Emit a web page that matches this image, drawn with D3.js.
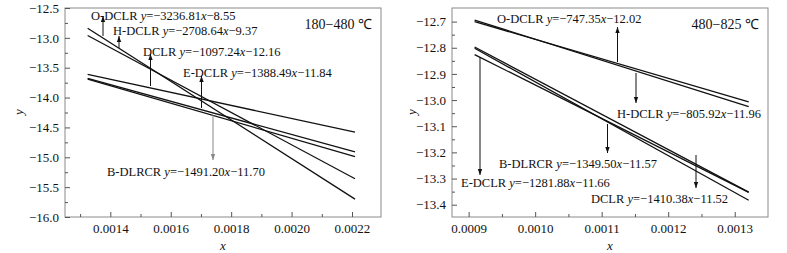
<!DOCTYPE html>
<html>
<head>
<meta charset="utf-8">
<script src="https://cdn.jsdelivr.net/npm/d3@7"></script>
<style>
  body { margin: 0; background: #fff; }
  svg text { font-family: "Liberation Serif", "Times New Roman", serif; fill: #111; }
</style>
</head>
<body>
<div id="chart"></div>
<script>
// fitted lines, two temperature ranges

// left panel, 180-480 C
const leftNames = ['O-DCLR', 'H-DCLR', 'DCLR', 'E-DCLR', 'B-DLRCR'];
const leftSlopes = ['3236.81', '2708.64', '1097.24', '1388.49', '1491.20'];
const leftInts = ['8.55', '9.37', '12.16', '11.84', '11.70'];
const leftX = [0.001325, 0.00221];
const leftY0 = [-12.84, -12.96, -13.61, -13.68, -13.69];
const leftY1 = [-15.70, -15.36, -14.58, -14.91, -14.99];
const leftXTicks = [0.0014, 0.0016, 0.0018, 0.0020, 0.0022];
const leftYTicks = [-12.5, -13.0, -13.5, -14.0, -14.5, -15.0, -15.5, -16.0];

// right panel, 480-825 C
const rightNames = ['O-DCLR', 'H-DCLR', 'B-DLRCR', 'E-DCLR', 'DCLR'];
const rightSlopes = ['747.35', '805.92', '1349.50', '1281.88', '1410.38'];
const rightInts = ['12.02', '11.96', '11.57', '11.66', '11.52'];
const rightX = [0.000909, 0.001321];
const rightY0 = [-12.70, -12.694, -12.797, -12.826, -12.802];
const rightY1 = [-13.007, -13.025, -13.352, -13.353, -13.383];
const rightXTicks = [0.0009, 0.0010, 0.0011, 0.0012, 0.0013];
const rightYTicks = [-12.7, -12.8, -12.9, -13.0, -13.1, -13.2, -13.3, -13.4];

const minus = s => s.replace(/-/g, '\u2212');

const svg = d3.select('#chart').append('svg')
    .attr('width', 787)
    .attr('height', 253);

function panel(opt) {
    let x = d3.scaleLinear().domain(opt.xDomain).range([opt.left, opt.right]);
    let y = d3.scaleLinear().domain(opt.yDomain).range([opt.bottom, opt.top]);
    let g = svg.append('g');

    // frame
    g.append('rect')
        .attr('x', opt.left).attr('y', opt.top)
        .attr('width', opt.right - opt.left).attr('height', opt.bottom - opt.top)
        .attr('fill', 'none').attr('stroke', '#8a8a8a').attr('stroke-width', 1);

    // axes, ticks pointing in
    let xAxis = d3.axisBottom(x).tickValues(opt.xTicks).tickSize(-5).tickPadding(7)
        .tickFormat(d => minus(d3.format(opt.xFmt)(d)));
    let gx = g.append('g').attr('transform', `translate(0,${opt.bottom})`).call(xAxis);
    let xMinor = d3.axisBottom(x).tickValues(opt.xMinor).tickSize(-3).tickFormat('');
    let gxm = g.append('g').attr('transform', `translate(0,${opt.bottom})`).call(xMinor);

    let yAxis = d3.axisLeft(y).tickValues(opt.yTicks).tickSize(-5).tickPadding(6)
        .tickFormat(d => minus(d3.format(opt.yFmt)(d)));
    let gy = g.append('g').attr('transform', `translate(${opt.left},0)`).call(yAxis);
    let yMinor = d3.axisLeft(y).tickValues(opt.yMinor).tickSize(-3).tickFormat('');
    let gym = g.append('g').attr('transform', `translate(${opt.left},0)`).call(yMinor);

    [gx, gxm, gy, gym].forEach(a => {
        a.select('.domain').remove();
        a.selectAll('line').attr('stroke', '#555');
        a.selectAll('text').style('font-size', '13px').style('font-family', '"Liberation Serif", serif').attr('fill', '#111');
    });

    // lines
    g.selectAll('.fit')
        .data(opt.y0)
        .enter()
        .append('line')
        .attr('class', 'fit')
        .attr('x1', x(opt.xs[0]))
        .attr('x2', x(opt.xs[1]))
        .attr('y1', (d, i) => y(opt.y0[i]))
        .attr('y2', (d, i) => y(opt.y1[i]))
        .attr('stroke', '#111')
        .attr('stroke-width', 1.3);

    // annotations with arrows
    opt.notes.forEach((n, i) => {
        let col = n.color || '#111';
        g.append('line')
            .attr('x1', n.ax).attr('x2', n.ax)
            .attr('y1', n.from).attr('y2', n.to)
            .attr('stroke', col).attr('stroke-width', 1);
        let dir = n.to < n.from ? 1 : -1;
        g.append('path')
            .attr('d', `M${n.ax},${n.to} l-2.2,${dir * 6} l4.4,0 z`)
            .attr('fill', col);
        let t = g.append('text')
            .attr('x', n.tx).attr('y', n.ty)
            .style('font-size', '12.5px');
        t.append('tspan').text(opt.names[i] + ' ');
        t.append('tspan').style('font-style', 'italic').text('y');
        t.append('tspan').text('=\u2212' + opt.slopes[i]);
        t.append('tspan').style('font-style', 'italic').text('x');
        t.append('tspan').text('\u2212' + opt.ints[i]);
    });

    // range label
    g.append('text')
        .attr('x', opt.right - 9).attr('y', 29)
        .attr('text-anchor', 'end')
        .style('font-size', '14px')
        .text(opt.range);

    // axis titles
    g.append('text')
        .attr('x', (opt.left + opt.right) / 2).attr('y', 250)
        .attr('text-anchor', 'middle')
        .style('font-size', '13px').style('font-style', 'italic')
        .text('x');
    g.append('text')
        .attr('transform', `translate(${opt.yLabelX},112) rotate(-90)`)
        .attr('text-anchor', 'middle')
        .style('font-size', '13px').style('font-style', 'italic')
        .text('y');
}

panel({
    left: 65, right: 381, top: 8, bottom: 217,
    xDomain: [0.00125, 0.002296], yDomain: [-16.0, -12.5],
    xTicks: leftXTicks, xMinor: [0.0013, 0.0015, 0.0017, 0.0019, 0.0021],
    yTicks: leftYTicks, yMinor: [-12.75, -13.25, -13.75, -14.25, -14.75, -15.25, -15.75],
    xFmt: '.4f', yFmt: '.1f',
    xs: leftX, y0: leftY0, y1: leftY1,
    names: leftNames, slopes: leftSlopes, ints: leftInts,
    range: '180\u2212480 \u2103',
    yLabelX: 23,
    notes: [
        {ax: 103, from: 36, to: 16, tx: 91, ty: 20},
        {ax: 119, from: 48, to: 36, tx: 113, ty: 35},
        {ax: 150.5, from: 86, to: 54, tx: 143, ty: 56},
        {ax: 201.5, from: 108, to: 76, tx: 183, ty: 77},
        {ax: 213, from: 115, to: 160, tx: 107, ty: 176, color: '#888'}
    ]
});

panel({
    left: 452, right: 768, top: 8, bottom: 217,
    xDomain: [0.000875, 0.00135], yDomain: [-13.447, -12.648],
    xTicks: rightXTicks, xMinor: [0.00095, 0.00105, 0.00115, 0.00125],
    yTicks: rightYTicks, yMinor: [-12.75, -12.85, -12.95, -13.05, -13.15, -13.25, -13.35],
    xFmt: '.4f', yFmt: '.1f',
    xs: rightX, y0: rightY0, y1: rightY1,
    names: rightNames, slopes: rightSlopes, ints: rightInts,
    range: '480\u2212825 \u2103',
    yLabelX: 416,
    notes: [
        {ax: 617.5, from: 62, to: 27, tx: 497, ty: 23},
        {ax: 636, from: 73, to: 103, tx: 617, ty: 118},
        {ax: 607.5, from: 124, to: 153, tx: 499, ty: 168},
        {ax: 480, from: 57, to: 175, tx: 461, ty: 187},
        {ax: 696, from: 155, to: 188, tx: 591, ty: 203}
    ]
});
</script>
</body>
</html>
